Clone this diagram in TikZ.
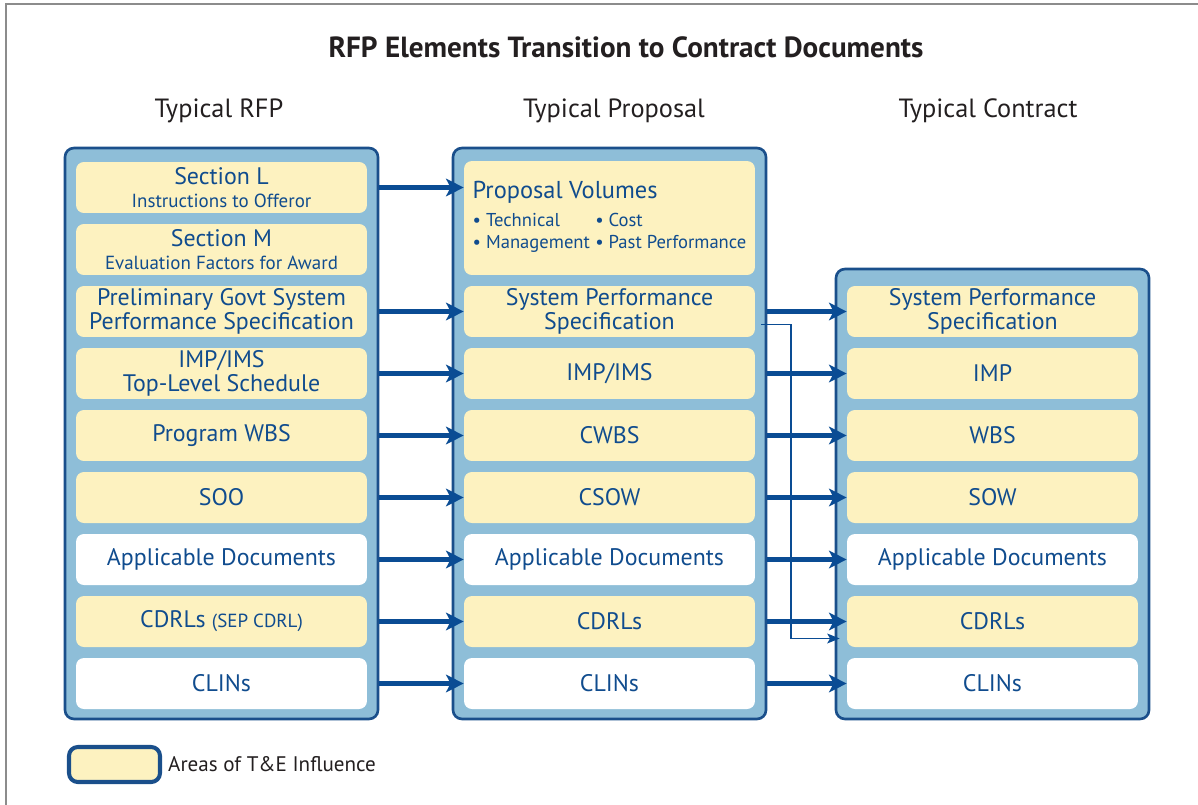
\documentclass[tikz,border=0pt]{standalone}
\usepackage{fontspec}
\setmainfont{PT Sans}
\usetikzlibrary{arrows.meta}

\definecolor{colfill}{RGB}{142,190,216}
\definecolor{colline}{RGB}{26,79,139}
\definecolor{itemfill}{RGB}{253,242,192}
\definecolor{txtblue}{RGB}{16,76,142}
\definecolor{arrowblue}{RGB}{10,76,148}
\definecolor{darktext}{RGB}{35,31,32}
\definecolor{framegray}{RGB}{140,140,140}

\newcommand{\rowsub}[1]{{\fontsize{10.8}{12}\selectfont #1}}

\tikzset{
  colbox/.style={draw=colline, line width=1.5pt, fill=colfill, rounded corners=5pt, inner sep=0pt},
  rowbox/.style={fill=itemfill, rounded corners=4.5pt, minimum width=5.82cm, minimum height=1.02cm,
    text=txtblue, align=center, inner sep=0pt, font=\fontsize{13.6}{13.8}\selectfont},
  whitebox/.style={rowbox, fill=white},
  flow/.style={draw=arrowblue, line width=2.3pt, -{Stealth[length=10pt,width=10pt,inset=2.5pt]}},
  thinflow/.style={draw=arrowblue, line width=1.1pt, -{Stealth[length=7pt,width=5.5pt,inset=1.5pt]}},
  heading/.style={text=darktext, font=\fontsize{15}{17}\selectfont}
}

\begin{document}
\begin{tikzpicture}[x=0.02cm, y=-0.02cm]
    \useasboundingbox (0,0) rectangle (1198,805);
    % frame
    \draw[framegray, line width=1.2pt] (6,805) -- (6,4) -- (1198,4);

    % titles
    \node[heading, font=\bfseries\fontsize{16.6}{18}\selectfont] (title) at (626,47) {RFP Elements Transition to Contract Documents};
    \node[heading] (hrfp) at (219,111) {Typical RFP};
    \node[heading] (hprop) at (614,111) {Typical Proposal};
    \node[heading] (hcont) at (988,111) {Typical Contract};

    % Typical RFP column
    \node[colbox, minimum width=6.26cm, minimum height=11.42cm] (rfp) at (221.5,433.5) {};
    \node[rowbox] (secL) at (221.5,187.5) {Section L\\[-1pt]\rowsub{Instructions to Offeror}};
    \node[rowbox] (secM) at (221.5,249.5) {Section M\\[-1pt]\rowsub{Evaluation Factors for Award}};
    \node[rowbox] (prelim) at (221.5,311.5) {Preliminary Govt System\\Performance Specification};
    \node[rowbox] (impL) at (221.5,373.5) {IMP/IMS\\Top-Level Schedule};
    \node[rowbox] (wbsL) at (221.5,435.5) {Program WBS};
    \node[rowbox] (soo) at (221.5,497.5) {SOO};
    \node[whitebox] (appL) at (221.5,559.5) {Applicable Documents};
    \node[rowbox] (cdrlL) at (221.5,621.5) {CDRLs \rowsub{(SEP CDRL)}};
    \node[whitebox] (clinL) at (221.5,683.5) {CLINs};

    % Typical Proposal column
    \node[colbox, minimum width=6.26cm, minimum height=11.42cm] (prop) at (609.5,433.5) {};
    \node[rowbox, minimum height=2.28cm, align=left] (propvol) at (609.5,218) {%
      {\fontsize{13.9}{15}\selectfont Proposal Volumes}\\[3.5pt]
      {\fontsize{10.6}{12.6}\selectfont
      \begin{tabular}{@{}l@{\hspace{3pt}}l@{}}
        \textbullet\ Technical & \textbullet\ Cost\\
        \textbullet\ Management & \textbullet\ Past Performance
      \end{tabular}}};
    \node[rowbox] (spsP) at (609.5,311.5) {System Performance\\Specification};
    \node[rowbox] (impP) at (609.5,373.5) {IMP/IMS};
    \node[rowbox] (cwbs) at (609.5,435.5) {CWBS};
    \node[rowbox] (csow) at (609.5,497.5) {CSOW};
    \node[whitebox] (appP) at (609.5,559.5) {Applicable Documents};
    \node[rowbox] (cdrlP) at (609.5,621.5) {CDRLs};
    \node[whitebox] (clinP) at (609.5,683.5) {CLINs};

    % Typical Contract column
    \node[colbox, minimum width=6.26cm, minimum height=9.0cm] (cont) at (992.5,494) {};
    \node[rowbox] (spsC) at (992.5,311.5) {System Performance\\Specification};
    \node[rowbox] (impC) at (992.5,373.5) {IMP};
    \node[rowbox] (wbsC) at (992.5,435.5) {WBS};
    \node[rowbox] (sow) at (992.5,497.5) {SOW};
    \node[whitebox] (appC) at (992.5,559.5) {Applicable Documents};
    \node[rowbox] (cdrlC) at (992.5,621.5) {CDRLs};
    \node[whitebox] (clinC) at (992.5,683.5) {CLINs};

    % RFP -> Proposal
    \draw[flow] (secL.east -| rfp.east) -- (propvol.west |- secL.east);
    \draw[flow] (prelim.east -| rfp.east) -- (spsP.west);
    \draw[flow] (impL.east -| rfp.east) -- (impP.west);
    \draw[flow] (wbsL.east -| rfp.east) -- (cwbs.west);
    \draw[flow] (soo.east -| rfp.east) -- (csow.west);
    \draw[flow] (appL.east -| rfp.east) -- (appP.west);
    \draw[flow] (cdrlL.east -| rfp.east) -- (cdrlP.west);
    \draw[flow] (clinL.east -| rfp.east) -- (clinP.west);

    % Proposal -> Contract
    \draw[flow] (spsP.east -| prop.east) -- (spsC.west);
    \draw[flow] (impP.east -| prop.east) -- (impC.west);
    \draw[flow] (cwbs.east -| prop.east) -- (wbsC.west);
    \draw[flow] (csow.east -| prop.east) -- (sow.west);
    \draw[flow] (appP.east -| prop.east) -- (appC.west);
    \draw[flow] (cdrlP.east -| prop.east) -- (cdrlC.west);
    \draw[flow] (clinP.east -| prop.east) -- (clinC.west);
    \draw[thinflow] ([shift={(6,13)}]spsP.east) -- ++(30,0) |- ([shift={(-7,17)}]cdrlC.west);

    % legend
    \node[draw=colline, line width=2.3pt, fill=itemfill, rounded corners=5pt,
      minimum width=1.82cm, minimum height=0.7cm] (legbox) at (114.5,764.5) {};
    \node[anchor=west, text=darktext, font=\fontsize{12}{13}\selectfont] (legtext) at (legbox.east) {Areas of T\&E Influence};
\end{tikzpicture}
\end{document}
